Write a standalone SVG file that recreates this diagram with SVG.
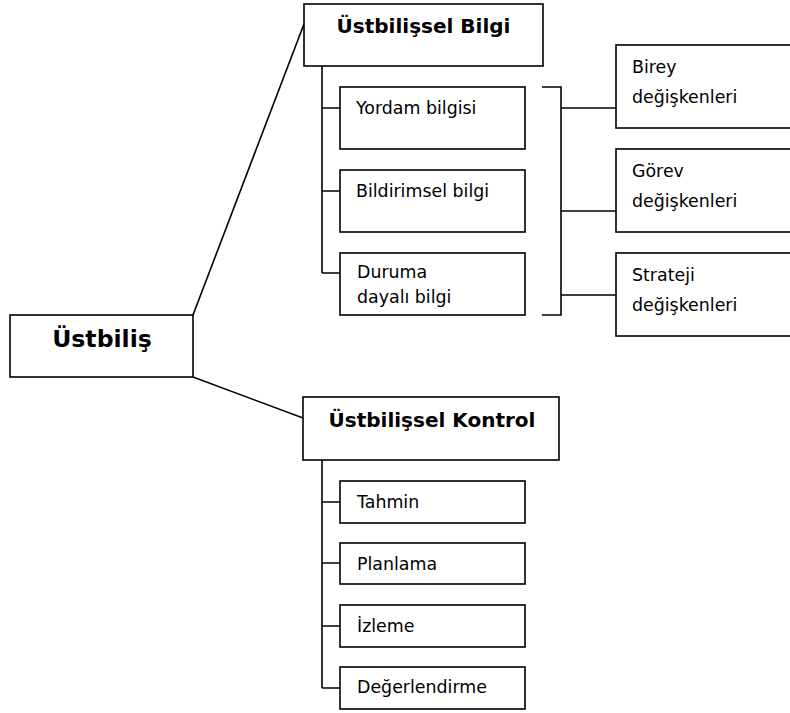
<svg xmlns="http://www.w3.org/2000/svg" width="790" height="713" viewBox="0 0 790 713">
<style>
.box{fill:#fff;stroke:#000;stroke-width:1.6}
.ln{fill:none;stroke:#000;stroke-width:1.6}
.t{font-family:"DejaVu Sans",Verdana,sans-serif;font-size:17.4px;fill:#000}
.b{font-family:"DejaVu Sans",Verdana,sans-serif;font-weight:bold;font-size:20px;fill:#000;text-anchor:middle}
</style>
<rect width="790" height="713" fill="#fff"/>
<g id="connectors" class="ln">
<path d="M193,315 L304,24"/>
<path d="M193,377 L303,418"/>
<path d="M322,66 V273 M322,108 H340 M322,191 H340 M322,273 H340"/>
<path d="M542,87 H561 V315 H542 M561,108 H616 M561,211 H616 M561,295 H616"/>
<path d="M322,460 V688 M322,502 H340 M322,563 H340 M322,626 H340 M322,688 H340"/>
</g>
<g id="ustbilis"><rect class="box" x="10" y="315" width="183" height="62"/><text class="b" x="102" y="347" style="font-size:23.6px">Üstbiliş</text></g>
<g id="bilgi"><rect class="box" x="304" y="4" width="239" height="62"/><text class="b" x="423.5" y="33">Üstbilişsel Bilgi</text></g>
<g id="kontrol"><rect class="box" x="303" y="397" width="256" height="63"/><text class="b" x="432" y="427">Üstbilişsel Kontrol</text></g>
<g id="yordam"><rect class="box" x="340" y="87" width="185" height="62"/><text class="t" x="356" y="114">Yordam bilgisi</text></g>
<g id="bildirimsel"><rect class="box" x="340" y="170" width="185" height="62"/><text class="t" x="356" y="197">Bildirimsel bilgi</text></g>
<g id="duruma"><rect class="box" x="340" y="253" width="185" height="62"/><text class="t" x="357" y="278">Duruma</text><text class="t" x="357" y="303">dayalı bilgi</text></g>
<g id="birey"><rect class="box" x="616" y="45" width="200" height="83"/><text class="t" x="632" y="73">Birey</text><text class="t" x="632" y="103">değişkenleri</text></g>
<g id="gorev"><rect class="box" x="616" y="149" width="200" height="83"/><text class="t" x="632" y="177">Görev</text><text class="t" x="632" y="207">değişkenleri</text></g>
<g id="strateji"><rect class="box" x="616" y="253" width="200" height="83"/><text class="t" x="632" y="281">Strateji</text><text class="t" x="632" y="311">değişkenleri</text></g>
<g id="tahmin"><rect class="box" x="340" y="481" width="185" height="42"/><text class="t" x="357" y="508">Tahmin</text></g>
<g id="planlama"><rect class="box" x="340" y="543" width="185" height="41"/><text class="t" x="357" y="570">Planlama</text></g>
<g id="izleme"><rect class="box" x="340" y="605" width="185" height="42"/><text class="t" x="357" y="632">İzleme</text></g>
<g id="degerlendirme"><rect class="box" x="340" y="667" width="185" height="42"/><text class="t" x="357" y="693">Değerlendirme</text></g>
</svg>
